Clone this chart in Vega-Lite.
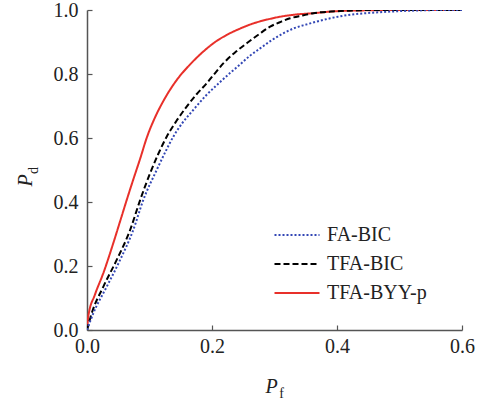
{
  "$schema": "https://vega.github.io/schema/vega-lite/v6.json",
  "width": 375,
  "height": 320,
  "autosize": {"type": "none"},
  "padding": {"left": 87, "top": 10, "right": 21, "bottom": 73},
  "background": "white",
  "config": {
    "view": {"stroke": null},
    "font": "Times New Roman, Liberation Serif, serif",
    "axis": {"grid": false, "domainColor": "#555555", "domainWidth": 1.5, "tickColor": "#555555", "tickWidth": 1.2, "labelFont": "Times New Roman, Liberation Serif, serif", "labelFontSize": 20, "labelColor": "#222222", "titleFont": "Times New Roman, Liberation Serif, serif", "titleColor": "#222222", "titleFontWeight": "normal"},
    "legend": {"labelFont": "Times New Roman, Liberation Serif, serif", "titleFont": "Times New Roman, Liberation Serif, serif"}
  },
  "datasets": {
    "roc": [
      {"series": "TFA-BYY-p", "pf": 0, "pd": 0},
      {"series": "TFA-BYY-p", "pf": 0.002, "pd": 0.042},
      {"series": "TFA-BYY-p", "pf": 0.013, "pd": 0.112},
      {"series": "TFA-BYY-p", "pf": 0.026, "pd": 0.177},
      {"series": "TFA-BYY-p", "pf": 0.042, "pd": 0.271},
      {"series": "TFA-BYY-p", "pf": 0.053, "pd": 0.34},
      {"series": "TFA-BYY-p", "pf": 0.0635, "pd": 0.406},
      {"series": "TFA-BYY-p", "pf": 0.074, "pd": 0.47},
      {"series": "TFA-BYY-p", "pf": 0.085, "pd": 0.535},
      {"series": "TFA-BYY-p", "pf": 0.096, "pd": 0.603},
      {"series": "TFA-BYY-p", "pf": 0.109, "pd": 0.665},
      {"series": "TFA-BYY-p", "pf": 0.122, "pd": 0.715},
      {"series": "TFA-BYY-p", "pf": 0.1435, "pd": 0.781},
      {"series": "TFA-BYY-p", "pf": 0.165, "pd": 0.83},
      {"series": "TFA-BYY-p", "pf": 0.186, "pd": 0.87},
      {"series": "TFA-BYY-p", "pf": 0.205, "pd": 0.9},
      {"series": "TFA-BYY-p", "pf": 0.2235, "pd": 0.922},
      {"series": "TFA-BYY-p", "pf": 0.245, "pd": 0.942},
      {"series": "TFA-BYY-p", "pf": 0.266, "pd": 0.958},
      {"series": "TFA-BYY-p", "pf": 0.29, "pd": 0.971},
      {"series": "TFA-BYY-p", "pf": 0.309, "pd": 0.979},
      {"series": "TFA-BYY-p", "pf": 0.335, "pd": 0.986},
      {"series": "TFA-BYY-p", "pf": 0.362, "pd": 0.99},
      {"series": "TFA-BYY-p", "pf": 0.39, "pd": 0.995},
      {"series": "TFA-BYY-p", "pf": 0.42, "pd": 0.998},
      {"series": "TFA-BYY-p", "pf": 0.45, "pd": 0.999},
      {"series": "TFA-BYY-p", "pf": 0.5, "pd": 1.0},
      {"series": "TFA-BYY-p", "pf": 0.6, "pd": 1.0},
      {"series": "TFA-BIC", "pf": 0, "pd": 0},
      {"series": "TFA-BIC", "pf": 0.0075, "pd": 0.052},
      {"series": "TFA-BIC", "pf": 0.026, "pd": 0.135},
      {"series": "TFA-BIC", "pf": 0.0475, "pd": 0.219},
      {"series": "TFA-BIC", "pf": 0.069, "pd": 0.3125},
      {"series": "TFA-BIC", "pf": 0.085, "pd": 0.406},
      {"series": "TFA-BIC", "pf": 0.101, "pd": 0.49},
      {"series": "TFA-BIC", "pf": 0.114, "pd": 0.55},
      {"series": "TFA-BIC", "pf": 0.1275, "pd": 0.604},
      {"series": "TFA-BIC", "pf": 0.143, "pd": 0.653},
      {"series": "TFA-BIC", "pf": 0.1595, "pd": 0.698},
      {"series": "TFA-BIC", "pf": 0.175, "pd": 0.736},
      {"series": "TFA-BIC", "pf": 0.1915, "pd": 0.771},
      {"series": "TFA-BIC", "pf": 0.205, "pd": 0.803},
      {"series": "TFA-BIC", "pf": 0.218, "pd": 0.833},
      {"series": "TFA-BIC", "pf": 0.236, "pd": 0.866},
      {"series": "TFA-BIC", "pf": 0.2555, "pd": 0.896},
      {"series": "TFA-BIC", "pf": 0.275, "pd": 0.924},
      {"series": "TFA-BIC", "pf": 0.293, "pd": 0.948},
      {"series": "TFA-BIC", "pf": 0.31, "pd": 0.963},
      {"series": "TFA-BIC", "pf": 0.325, "pd": 0.974},
      {"series": "TFA-BIC", "pf": 0.345, "pd": 0.983},
      {"series": "TFA-BIC", "pf": 0.362, "pd": 0.99},
      {"series": "TFA-BIC", "pf": 0.39, "pd": 0.995},
      {"series": "TFA-BIC", "pf": 0.42, "pd": 0.998},
      {"series": "TFA-BIC", "pf": 0.46, "pd": 1.0},
      {"series": "TFA-BIC", "pf": 0.6, "pd": 1.0},
      {"series": "FA-BIC", "pf": 0, "pd": 0},
      {"series": "FA-BIC", "pf": 0.01, "pd": 0.052},
      {"series": "FA-BIC", "pf": 0.0315, "pd": 0.135},
      {"series": "FA-BIC", "pf": 0.053, "pd": 0.219},
      {"series": "FA-BIC", "pf": 0.074, "pd": 0.3125},
      {"series": "FA-BIC", "pf": 0.09, "pd": 0.406},
      {"series": "FA-BIC", "pf": 0.1115, "pd": 0.5},
      {"series": "FA-BIC", "pf": 0.125, "pd": 0.555},
      {"series": "FA-BIC", "pf": 0.138, "pd": 0.604},
      {"series": "FA-BIC", "pf": 0.153, "pd": 0.648},
      {"series": "FA-BIC", "pf": 0.17, "pd": 0.6875},
      {"series": "FA-BIC", "pf": 0.19, "pd": 0.732},
      {"series": "FA-BIC", "pf": 0.213, "pd": 0.775},
      {"series": "FA-BIC", "pf": 0.23, "pd": 0.805},
      {"series": "FA-BIC", "pf": 0.245, "pd": 0.83},
      {"series": "FA-BIC", "pf": 0.26, "pd": 0.856},
      {"series": "FA-BIC", "pf": 0.277, "pd": 0.88},
      {"series": "FA-BIC", "pf": 0.295, "pd": 0.905},
      {"series": "FA-BIC", "pf": 0.314, "pd": 0.927},
      {"series": "FA-BIC", "pf": 0.33, "pd": 0.942},
      {"series": "FA-BIC", "pf": 0.3515, "pd": 0.955},
      {"series": "FA-BIC", "pf": 0.37, "pd": 0.965},
      {"series": "FA-BIC", "pf": 0.389, "pd": 0.974},
      {"series": "FA-BIC", "pf": 0.41, "pd": 0.982},
      {"series": "FA-BIC", "pf": 0.4315, "pd": 0.9875},
      {"series": "FA-BIC", "pf": 0.46, "pd": 0.992},
      {"series": "FA-BIC", "pf": 0.485, "pd": 0.995},
      {"series": "FA-BIC", "pf": 0.52, "pd": 0.998},
      {"series": "FA-BIC", "pf": 0.57, "pd": 1.0},
      {"series": "FA-BIC", "pf": 0.6, "pd": 1.0}
    ]
  },
  "data": {"name": "roc"},
  "resolve": {"axis": {"x": "independent", "y": "independent"}},
  "layer": [
    {
      "mark": {"type": "line", "strokeWidth": 2, "interpolate": "monotone", "clip": true},
      "encoding": {
        "x": {"field": "pf", "type": "quantitative", "scale": {"domain": [0, 0.6], "nice": false},
          "axis": {"orient": "bottom", "values": [0, 0.2, 0.4, 0.6], "format": ".1f", "tickSize": -5, "labelPadding": 11, "labelFlush": false,
            "title": "P", "titleFontStyle": "italic", "titleFontSize": 20, "titleX": 184, "titleY": 62, "titleAlign": "center", "titleBaseline": "alphabetic", "titleAnchor": null}},
        "y": {"field": "pd", "type": "quantitative", "scale": {"domain": [0, 1], "nice": false},
          "axis": {"orient": "left", "values": [0, 0.2, 0.4, 0.6, 0.8, 1.0], "format": ".1f", "tickSize": -5, "labelPadding": 14, "labelFlush": false,
            "title": "P", "titleFontStyle": "italic", "titleFontSize": 20, "titleX": -56, "titleY": 170, "titleAngle": -90, "titleAlign": "center", "titleBaseline": "alphabetic", "titleAnchor": null}},
        "color": {"field": "series", "type": "nominal",
          "scale": {"domain": ["FA-BIC", "TFA-BIC", "TFA-BYY-p"], "range": ["#3347b5", "#000000", "#e8302a"]},
          "legend": {"orient": "none", "legendX": 185, "legendY": 215, "title": null, "padding": 0, "symbolType": "M-1,0H5", "symbolSize": 225, "symbolStrokeWidth": 2, "labelFontSize": 20, "labelColor": "#222222", "labelOffset": 35, "rowPadding": 9}},
        "strokeDash": {"field": "series", "type": "nominal",
          "scale": {"domain": ["FA-BIC", "TFA-BIC", "TFA-BYY-p"], "range": [[2, 2], [6, 3], [1, 0]]},
          "legend": {"orient": "none", "legendX": 185, "legendY": 215, "title": null, "padding": 0, "symbolType": "M-1,0H5", "symbolSize": 225, "symbolStrokeWidth": 2, "labelFontSize": 20, "labelColor": "#222222", "labelOffset": 35, "rowPadding": 9}}
      }
    },
    {
      "mark": {"type": "line", "strokeOpacity": 0},
      "encoding": {
        "x": {"field": "pf", "type": "quantitative",
          "axis": {"orient": "bottom", "domain": false, "ticks": false, "labels": false, "title": "f", "titleFontSize": 14, "titleX": 194, "titleY": 67, "titleAlign": "center", "titleBaseline": "alphabetic", "titleAnchor": null}},
        "y": {"field": "pd", "type": "quantitative",
          "axis": {"orient": "left", "domain": false, "ticks": false, "labels": false, "title": "d", "titleFontSize": 14, "titleX": -50, "titleY": 160, "titleAngle": -90, "titleAlign": "center", "titleBaseline": "alphabetic", "titleAnchor": null}},
        "detail": {"field": "series", "type": "nominal"}
      }
    }
  ]
}
